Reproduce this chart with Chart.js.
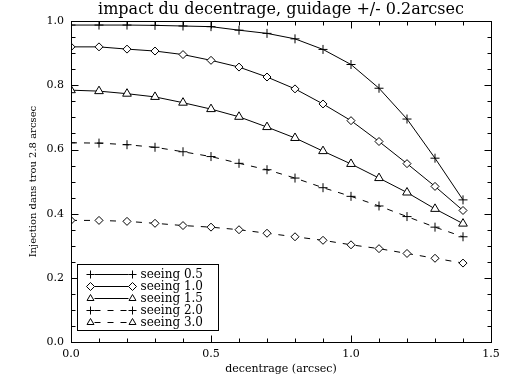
<!DOCTYPE html>
<html>
<head>
<meta charset="utf-8">
<script src="https://cdn.jsdelivr.net/npm/chart.js@4.4.1/dist/chart.umd.min.js"></script>
<style>
    html, body { margin: 0; padding: 0; background: #fff; }
</style>
</head>
<body>
<canvas id="injChart" width="512" height="384"></canvas>
<script>
// decentrage (arcsec) on x, injection fraction on y
const decentrage = [0, 0.1, 0.2, 0.3, 0.4, 0.5, 0.6, 0.7, 0.8, 0.9, 1.0, 1.1, 1.2, 1.3, 1.4];
const seeing05 = [0.988, 0.988, 0.988, 0.987, 0.985, 0.983, 0.972, 0.962, 0.945, 0.912, 0.865, 0.791, 0.695, 0.573, 0.443];
const seeing10 = [0.920, 0.920, 0.913, 0.907, 0.896, 0.878, 0.857, 0.826, 0.789, 0.742, 0.690, 0.625, 0.556, 0.485, 0.410];
const seeing15 = [0.785, 0.782, 0.774, 0.764, 0.746, 0.726, 0.702, 0.670, 0.636, 0.595, 0.555, 0.511, 0.466, 0.415, 0.369];
const seeing20 = [0.621, 0.620, 0.615, 0.607, 0.593, 0.578, 0.557, 0.537, 0.511, 0.481, 0.454, 0.424, 0.391, 0.358, 0.328];
const seeing30 = [0.379, 0.379, 0.376, 0.370, 0.363, 0.358, 0.350, 0.339, 0.328, 0.317, 0.303, 0.291, 0.276, 0.261, 0.246];

const seriesLabels = ['seeing 0.5', 'seeing 1.0', 'seeing 1.5', 'seeing 2.0', 'seeing 3.0'];

// tick labels
const xMajorTicks = [0, 0.5, 1.0, 1.5];
const yMajorTicks = [0, 0.2, 0.4, 0.6, 0.8, 1.0];
const xMinorStep = 0.1;
const yMinorStep = 0.05;

const serif = "'DejaVu Serif', 'Liberation Serif', serif";
const toPts = (ys) => ys.map((y, i) => ({ x: decentrage[i], y: y }));

const styles = [
    { point: 'cross',   radius: 4.5, dash: [] },
    { point: 'rectRot', radius: 4,   dash: [] },
    { point: 'triangle', radius: 5,  dash: [] },
    { point: 'cross',   radius: 4.5, dash: [6, 7] },
    { point: 'rectRot', radius: 4,   dash: [6, 7] }
];
// the original legend shows a triangle for the last entry
const legendMarkers = ['cross', 'rectRot', 'triangle', 'cross', 'triangle'];

const datasets = [seeing05, seeing10, seeing15, seeing20, seeing30].map((ys, i) => ({
    label: seriesLabels[i],
    data: toPts(ys),
    borderColor: '#000',
    borderWidth: 1,
    borderDash: styles[i].dash,
    pointStyle: styles[i].point,
    pointRadius: styles[i].radius,
    pointBorderColor: '#000',
    pointBackgroundColor: '#fff',
    pointBorderWidth: 1,
    fill: false,
    tension: 0
}));

// frame, inward ticks and the in-plot legend box
const idlDecor = {
    id: 'idlDecor',
    afterDraw(chart) {
        const ctx = chart.ctx;
        const a = chart.chartArea;
        const xs = chart.scales.x, ys = chart.scales.y;
        ctx.save();
        ctx.strokeStyle = '#000';
        ctx.lineWidth = 1;
        ctx.setLineDash([]);
        const L = Math.round(a.left) + 0.5, R = Math.round(a.right) + 0.5;
        const T = Math.round(a.top) + 0.5, B = Math.round(a.bottom) + 0.5;
        ctx.strokeRect(L, T, R - L, B - T);

        const line = (x1, y1, x2, y2) => { ctx.beginPath(); ctx.moveTo(x1, y1); ctx.lineTo(x2, y2); ctx.stroke(); };
        const isMajor = (arr, v) => arr.some(t => Math.abs(t - v) < 1e-6);

        for (let k = 0; k * xMinorStep <= xs.max + 1e-9; k++) {
            const v = k * xMinorStep;
            const px = Math.round(xs.getPixelForValue(v)) + 0.5;
            const len = isMajor(xMajorTicks, v) ? 7 : 4;
            line(px, B, px, B - len);
            line(px, T, px, T + len);
        }
        for (let k = 0; k * yMinorStep <= ys.max + 1e-9; k++) {
            const v = k * yMinorStep;
            const py = Math.round(ys.getPixelForValue(v)) + 0.5;
            const len = isMajor(yMajorTicks, v) ? 7 : 4;
            line(L, py, L + len, py);
            line(R, py, R - len, py);
        }

        // legend
        const bx = Math.round(a.left) + 6.5, by = Math.round(a.bottom) - 77.5;
        const bw = 141, bh = 66;
        ctx.fillStyle = '#fff';
        ctx.fillRect(bx, by, bw, bh);
        ctx.strokeRect(bx, by, bw, bh);
        ctx.font = '12px ' + serif;
        ctx.textBaseline = 'middle';
        chart.data.datasets.forEach((ds, i) => {
            const yy = Math.round(by + 9.5 + i * 11.9) + 0.5;
            const x1 = bx + 13, x2 = bx + 55;
            ctx.strokeStyle = '#000';
            ctx.setLineDash(ds.borderDash || []);
            line(x1 + 4, yy, x2 - 4, yy);
            ctx.setLineDash([]);
            ctx.fillStyle = '#fff';
            const opts = { pointStyle: legendMarkers[i], radius: Math.min(ds.pointRadius, 4), rotation: 0, borderWidth: 1 };
            Chart.helpers.drawPoint(ctx, opts, x1, yy);
            Chart.helpers.drawPoint(ctx, opts, x2, yy);
            ctx.fillStyle = '#000';
            ctx.fillText(ds.label, x2 + 8, yy);
        });
        ctx.restore();
    }
};

const ctx = document.getElementById('injChart').getContext('2d');
const chart = new Chart(ctx, {
    type: 'line',
    data: { datasets: datasets },
    plugins: [idlDecor],
    options: {
        responsive: false,
        animation: false,
        devicePixelRatio: 1,
        layout: { padding: { left: 0, right: 21, top: 0, bottom: 0 } },
        plugins: {
            legend: { display: false },
            tooltip: { enabled: false },
            title: {
                display: true,
                fullSize: false,
                text: 'impact du decentrage, guidage +/- 0.2arcsec',
                color: '#000',
                font: { family: serif, size: 16, weight: 'normal' },
                padding: { top: 0, bottom: 2 }
            }
        },
        scales: {
            x: {
                type: 'linear',
                min: 0,
                max: 1.5,
                grid: { display: false, drawTicks: false },
                border: { display: false },
                afterBuildTicks: (s) => { s.ticks = xMajorTicks.map(v => ({ value: v })); },
                afterFit: (s) => { s.height = 42; },
                ticks: {
                    color: '#000',
                    font: { family: serif, size: 11 },
                    padding: 6,
                    maxRotation: 0,
                    callback: (v) => Number(v).toFixed(1)
                },
                title: {
                    display: true,
                    text: 'decentrage (arcsec)',
                    color: '#000',
                    font: { family: serif, size: 11 },
                    padding: { top: 0, bottom: 8 }
                }
            },
            y: {
                min: 0,
                max: 1.0,
                grid: { display: false, drawTicks: false },
                border: { display: false },
                afterBuildTicks: (s) => { s.ticks = yMajorTicks.map(v => ({ value: v })); },
                afterFit: (s) => { s.width = 71; },
                ticks: {
                    color: '#000',
                    font: { family: serif, size: 11 },
                    padding: 7,
                    callback: (v) => Number(v).toFixed(1)
                },
                title: {
                    display: true,
                    text: 'Injection dans trou 2.8 arcsec',
                    color: '#000',
                    font: { family: serif, size: 10 },
                    padding: { top: 27, bottom: 0 }
                }
            }
        }
    }
});
</script>
</body>
</html>
